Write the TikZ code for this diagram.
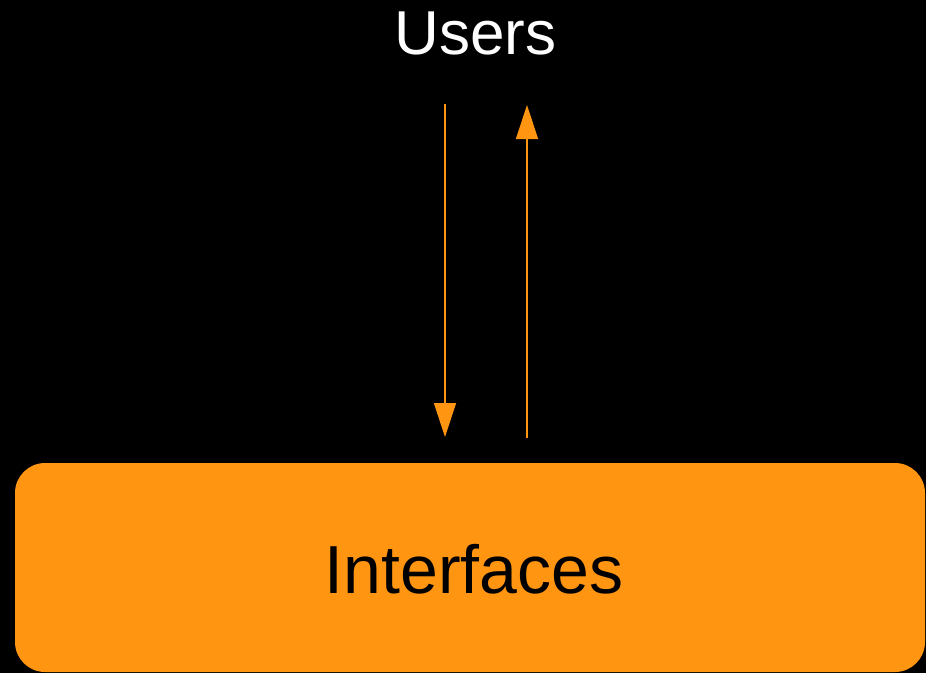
\documentclass[tikz,border=0pt]{standalone}
\usepackage{fontspec}
\setmainfont{Liberation Sans}
\usetikzlibrary{arrows.meta}
\definecolor{accent}{RGB}{255,149,17}
\begin{document}
\begin{tikzpicture}[x=1pt,y=-1pt,
  label/.style={inner sep=0pt, anchor=base},
  flow/.style={color=accent, line width=1.3pt,
    -{Triangle[length=34pt,width=22pt]}}]
  % canvas
  \fill[black] (0,0) rectangle (926,673);
  \useasboundingbox (0,0) rectangle (926,673);
  % interface block
  \node[fill=accent, rounded corners=30pt, minimum width=910pt,
        minimum height=209pt, inner sep=0pt] (box) at (470,567.5) {};
  \node[label, text=black, font=\fontsize{68}{80}\selectfont] (iface) at (474,593) {Interfaces};
  % users label
  \node[label, text=white, font=\fontsize{62}{72}\selectfont] (users) at (475.5,54) {Users};
  % request and response flows
  \coordinate (downtop) at (445,104);
  \coordinate (downend) at (445,437);
  \coordinate (upstart) at (527,437.5);
  \coordinate (upend) at (527,105);
  \draw[flow] (downtop) -- (downend);
  \draw[flow] (upstart) -- (upend);
\end{tikzpicture}
\end{document}
